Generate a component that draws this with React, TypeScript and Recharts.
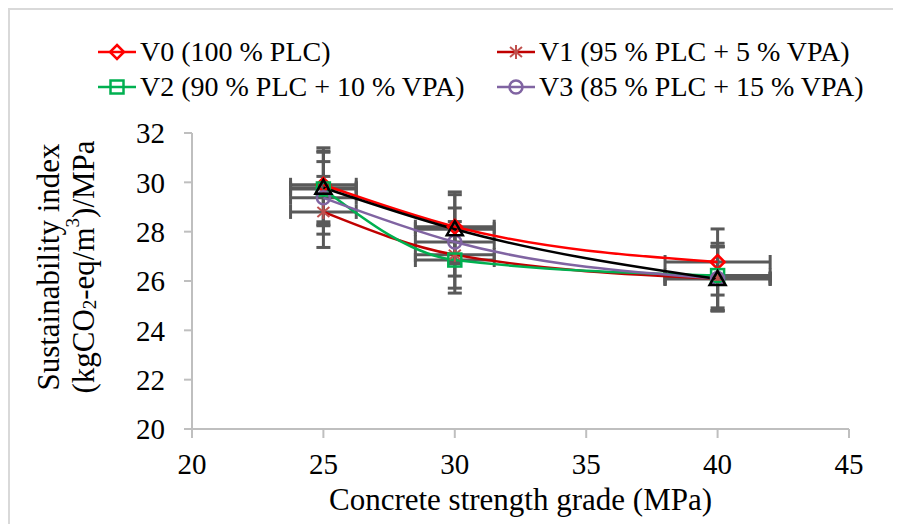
import React from 'react'
import { ComposedChart, Line, Scatter, ErrorBar, XAxis, YAxis } from 'recharts'

// concrete strength grade (MPa)
const grades = [25, 30, 40]
const gradeErr = [1.25, 1.5, 2]

// sustainability index (kgCO2-eq/m3)/MPa
const v0 = [29.9, 28.2, 26.77]
const v0Err = [1.5, 1.41, 1.34]
const v1 = [28.8, 27.06, 26.1]
const v1Err = [1.44, 1.35, 1.3]
const v2 = [29.73, 26.85, 26.22]
const v2Err = [1.49, 1.34, 1.31]
const v3 = [29.37, 27.58, 26.1]
const v3Err = [1.47, 1.38, 1.3]
const ref = [29.78, 28.1, 26.08]
const refErr = [1.49, 1.4, 1.3]

const xTicks = [20, 25, 30, 35, 40, 45]
const yTicks = [20, 22, 24, 26, 28, 30, 32]

type Shape = 'diamond' | 'star' | 'square' | 'circle' | 'triangle'

const series = [
  { key: 'v0', name: 'V0 (100 % PLC)', color: '#ff0000', marker: '#ff0000', shape: 'diamond' as Shape, values: v0, errs: v0Err, legend: true },
  { key: 'v1', name: 'V1 (95 % PLC + 5 % VPA)', color: '#c00000', marker: '#c0504d', shape: 'star' as Shape, values: v1, errs: v1Err, legend: true },
  { key: 'v2', name: 'V2 (90 % PLC + 10 % VPA)', color: '#00b050', marker: '#00b050', shape: 'square' as Shape, values: v2, errs: v2Err, legend: true },
  { key: 'v3', name: 'V3 (85 % PLC + 15 % VPA)', color: '#8064a2', marker: '#8064a2', shape: 'circle' as Shape, values: v3, errs: v3Err, legend: true },
  { key: 'ref', name: 'Ref', color: '#000000', marker: '#000000', shape: 'triangle' as Shape, values: ref, errs: refErr, legend: false },
]

const rows = grades.map((x, i) => {
  const row: Record<string, number> = { x, xErr: gradeErr[i] }
  for (const s of series) {
    row[s.key] = s.values[i]
    row[s.key + 'Err'] = s.errs[i]
  }
  return row
})

const FONT = '"Liberation Serif", "Times New Roman", serif'
const AXIS = '#bfbfbf'
const ERR = '#595959'

function Marker({ shape, cx, cy, color }: { shape: Shape; cx: number; cy: number; color: string }) {
  const sw = 2.5
  if (shape === 'diamond')
    return <polygon points={`${cx},${cy - 7} ${cx + 7},${cy} ${cx},${cy + 7} ${cx - 7},${cy}`} fill="none" stroke={color} strokeWidth={sw} />
  if (shape === 'square')
    return <rect x={cx - 6.5} y={cy - 6.5} width={13} height={13} fill="none" stroke={color} strokeWidth={sw} />
  if (shape === 'circle') return <circle cx={cx} cy={cy} r={6.5} fill="none" stroke={color} strokeWidth={sw} />
  if (shape === 'triangle')
    return <polygon points={`${cx},${cy - 8} ${cx + 8},${cy + 6} ${cx - 8},${cy + 6}`} fill="none" stroke={color} strokeWidth={sw} />
  return (
    <g stroke={color} strokeWidth={2}>
      <line x1={cx} y1={cy - 7} x2={cx} y2={cy + 7} />
      <line x1={cx - 6} y1={cy - 5} x2={cx + 6} y2={cy + 5} />
      <line x1={cx - 6} y1={cy + 5} x2={cx + 6} y2={cy - 5} />
    </g>
  )
}

function YTitle(props: any) {
  const { viewBox } = props
  const cy = viewBox.y + viewBox.height / 2 - 14
  const x1 = viewBox.x + 38
  const x2 = viewBox.x + 73
  return (
    <g fontFamily={FONT} fontSize={31} fill="#000">
      <text x={x1} y={cy} textAnchor="middle" dominantBaseline="central" transform={`rotate(-90 ${x1} ${cy})`}>
        Sustainability index
      </text>
      <text x={x2} y={cy} textAnchor="middle" dominantBaseline="central" transform={`rotate(-90 ${x2} ${cy})`}>
        (kgCO<tspan fontSize={19} dy={6}>2</tspan>
        <tspan dy={-6}>-eq/m</tspan>
        <tspan fontSize={19} dy={-11}>3</tspan>
        <tspan dy={11}>)/MPa</tspan>
      </text>
    </g>
  )
}

function XTitle(props: any) {
  const { viewBox } = props
  return (
    <text x={viewBox.x + viewBox.width / 2} y={viewBox.y + 81} textAnchor="middle" fontFamily={FONT} fontSize={31} fill="#000">
      Concrete strength grade (MPa)
    </text>
  )
}

function LegendItem({ s }: { s: (typeof series)[number] }) {
  return (
    <div style={{ display: 'flex', alignItems: 'center', height: 35 }}>
      <svg width={38} height={20} style={{ marginRight: 4 }}>
        <line x1={0} y1={10} x2={38} y2={10} stroke={s.color} strokeWidth={2.5} />
        <Marker shape={s.shape} cx={19} cy={10} color={s.marker} />
      </svg>
      <span style={{ fontFamily: FONT }}>{s.name}</span>
    </div>
  )
}

export default function App() {
  const legendItems = series.filter((s) => s.legend)
  return (
    <div
      style={{
        position: 'relative',
        width: 893,
        height: 516,
        borderLeft: '2px solid #d9d9d9',
        borderTop: '2px solid #d9d9d9',
        fontFamily: FONT,
        background: '#fff',
      }}
    >
      <div
        style={{
          position: 'absolute',
          left: 88,
          top: 24,
          display: 'grid',
          gridTemplateColumns: '399px 380px',
          fontSize: 28,
          color: '#000',
          whiteSpace: 'nowrap',
        }}
      >
        {legendItems.map((s) => (
          <LegendItem key={s.key} s={s} />
        ))}
      </div>
      <ComposedChart width={880} height={509} data={rows} margin={{ top: 123, right: 41, bottom: 0, left: 0 }}>
        <XAxis
          dataKey="x"
          type="number"
          domain={[20, 45]}
          ticks={xTicks}
          allowDataOverflow
          stroke={AXIS}
          strokeWidth={2}
          tickSize={9}
          tickMargin={15}
          height={90}
          tick={{ fill: '#000', fontSize: 29, fontFamily: FONT }}
          label={<XTitle />}
        />
        <YAxis
          type="number"
          domain={[20, 32]}
          ticks={yTicks}
          allowDataOverflow
          stroke={AXIS}
          strokeWidth={2}
          tickSize={8}
          tickMargin={19}
          width={182}
          tick={{ fill: '#000', fontSize: 29, fontFamily: FONT }}
          label={<YTitle />}
        />
        {series.map((s) => (
          <Scatter key={s.key + '-err'} dataKey={s.key} shape={() => <g />} isAnimationActive={false}>
            <ErrorBar dataKey="xErr" direction="x" width={7} stroke={ERR} strokeWidth={3} />
            <ErrorBar dataKey={s.key + 'Err'} direction="y" width={7} stroke={ERR} strokeWidth={3} />
          </Scatter>
        ))}
        {series.map((s) => (
          <Line
            key={s.key}
            type="monotone"
            dataKey={s.key}
            stroke={s.color}
            strokeWidth={2.5}
            isAnimationActive={false}
            dot={(p: any) => <Marker key={s.key + p.index} shape={s.shape} cx={p.cx} cy={p.cy} color={s.marker} />}
            activeDot={false}
          />
        ))}
      </ComposedChart>
    </div>
  )
}
